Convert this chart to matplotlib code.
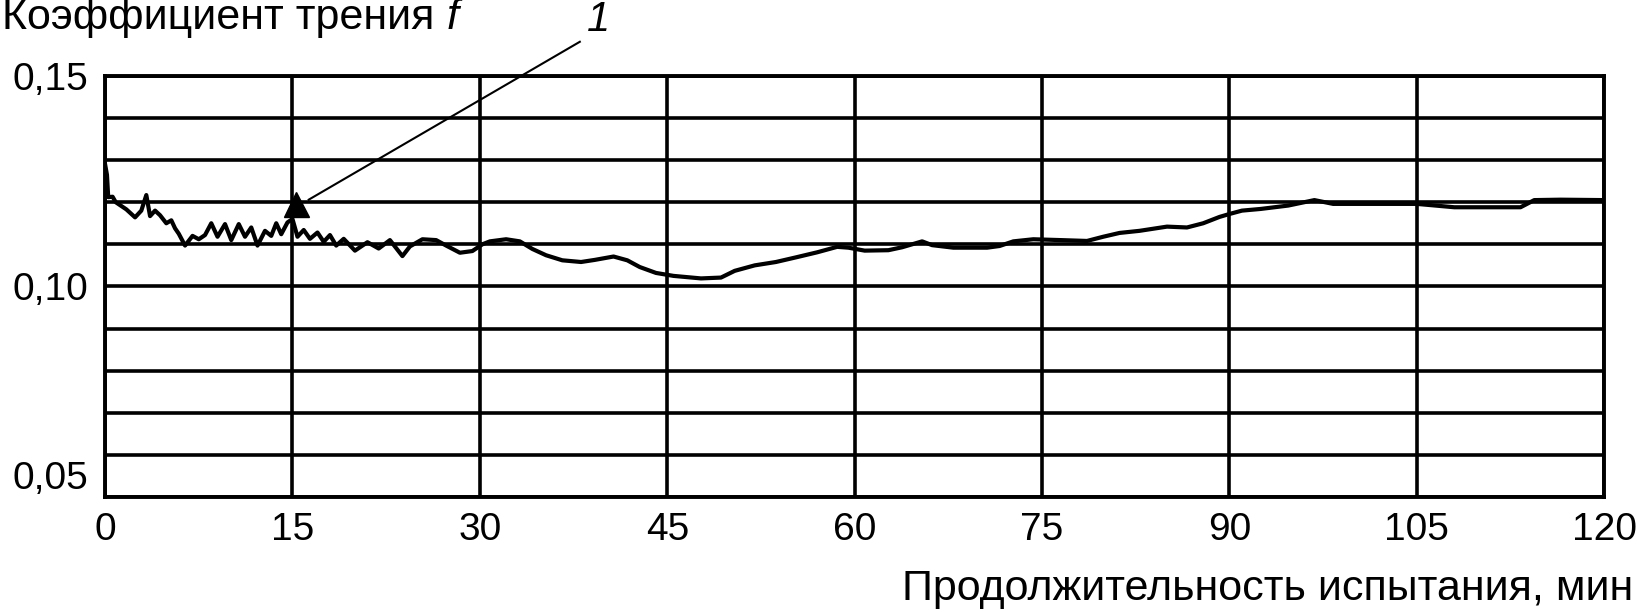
import matplotlib.pyplot as plt
import numpy as np

plt.rcParams['font.family'] = ['Liberation Sans', 'DejaVu Sans']

# время испытания, мин
time_min = [0.0, 0.15, 0.25, 0.6, 0.85, 1.7, 2.4, 2.9, 3.3, 3.6, 4.0, 4.4, 4.9, 5.3,
            5.6, 5.9, 6.4, 7.0, 7.5, 8.0, 8.5, 9.0, 9.6, 10.1, 10.7, 11.2, 11.7, 12.2,
            12.8, 13.3, 13.7, 14.1, 14.6, 15.0, 15.4, 15.9, 16.4, 17.0, 17.5, 18.0,
            18.5, 19.1, 20.0, 21.0, 21.9, 22.8, 23.8, 24.4, 25.4, 26.5, 27.3, 28.4,
            29.4, 30.2, 30.8, 32.1, 33.2, 34.2, 35.3, 36.6, 38.1, 39.2, 40.7, 41.8,
            42.8, 44.1, 45.5, 47.7, 49.3, 50.4, 52.0, 53.7, 55.3, 57.0, 58.6, 59.5,
            60.8, 62.7, 63.8, 65.4, 66.2, 67.9, 70.6, 71.6, 72.7, 74.3, 76.5, 78.6,
            79.9, 81.2, 82.8, 85.0, 86.6, 87.9, 89.2, 90.0, 91.0, 92.5, 94.7, 96.8,
            98.3, 102.4, 105.0, 108.0, 113.3, 114.4, 116.5, 120.0]
# коэффициент трения
friction = [0.1290, 0.1265, 0.1212, 0.1213, 0.1200, 0.1183, 0.1164, 0.1180, 0.1217,
            0.1167, 0.1180, 0.1169, 0.1150, 0.1157, 0.1138, 0.1125, 0.1097, 0.1120,
            0.1112, 0.1122, 0.1150, 0.1118, 0.1148, 0.1110, 0.1148, 0.1118, 0.1140,
            0.1097, 0.1132, 0.1120, 0.1150, 0.1124, 0.1152, 0.1160, 0.1118, 0.1134,
            0.1113, 0.1128, 0.1106, 0.1122, 0.1097, 0.1113, 0.1085, 0.1105, 0.1090,
            0.1110, 0.1072, 0.1095, 0.1112, 0.1110, 0.1097, 0.1080, 0.1084, 0.1100,
            0.1107, 0.1112, 0.1107, 0.1089, 0.1074, 0.1062, 0.1058, 0.1063, 0.1071,
            0.1062, 0.1046, 0.1032, 0.1025, 0.1019, 0.1021, 0.1037, 0.1050, 0.1058,
            0.1069, 0.1081, 0.1094, 0.1092, 0.1085, 0.1086, 0.1093, 0.1107, 0.1098,
            0.1092, 0.1092, 0.1096, 0.1107, 0.1112, 0.1110, 0.1108, 0.1118, 0.1127,
            0.1132, 0.1142, 0.1140, 0.1150, 0.1165, 0.1172, 0.1180, 0.1184, 0.1192,
            0.1205, 0.1196, 0.1196, 0.1196, 0.1188, 0.1188, 0.1205, 0.1206, 0.1205]

x_ticks = [0, 15, 30, 45, 60, 75, 90, 105, 120]
y_labels = ['0,05', '0,10', '0,15']
y_label_vals = [0.05, 0.10, 0.15]

# выноска "1"
marker_pt = (15.3, 0.1196)
leader_start = (16.3, 0.1206)
leader_end = (38.0, 0.1581)
label_pt = (39.5, 0.1606)

fig = plt.figure(figsize=(16.42, 6.12), dpi=100)
ax = fig.add_axes([0.064, 0.188, 0.913, 0.688])

ax.set_xlim(0, 120)
ax.set_ylim(0.05, 0.15)
ax.set_xticks(x_ticks)
ax.set_xticklabels([str(v) for v in x_ticks])
ax.set_yticks(y_label_vals)
ax.set_yticklabels(y_labels)
ax.set_yticks(np.arange(0.05, 0.151, 0.01), minor=True)
ax.tick_params(which='both', length=0, labelsize=28, pad=11, colors='black')
ax.tick_params(axis='y', pad=12)
ax.get_yticklabels()[0].set_va('bottom')
ax.grid(True, which='both', color='black', lw=2.6)
for s in ax.spines.values():
    s.set_linewidth(2.8)
ax.set_axisbelow(True)

ax.plot(time_min, friction, color='black', lw=3.0, zorder=3)

ax.plot([leader_start[0], leader_end[0]], [leader_start[1], leader_end[1]],
        color='black', lw=1.5, clip_on=False, zorder=4)
ax.plot([marker_pt[0]], [marker_pt[1]], marker='^', ms=18, color='black', zorder=5)
ax.text(label_pt[0], label_pt[1], '1', fontsize=30, style='italic',
        ha='center', va='baseline', clip_on=False)

fig.text(0.001, 0.953, 'Коэффициент трения', fontsize=31, ha='left', va='baseline')
fig.text(0.272, 0.953, 'f', fontsize=31, style='italic', ha='left', va='baseline')
fig.text(0.9945, 0.02, 'Продолжительность испытания, мин', fontsize=31,
         ha='right', va='baseline')

fig.savefig('out.png', dpi=100)
